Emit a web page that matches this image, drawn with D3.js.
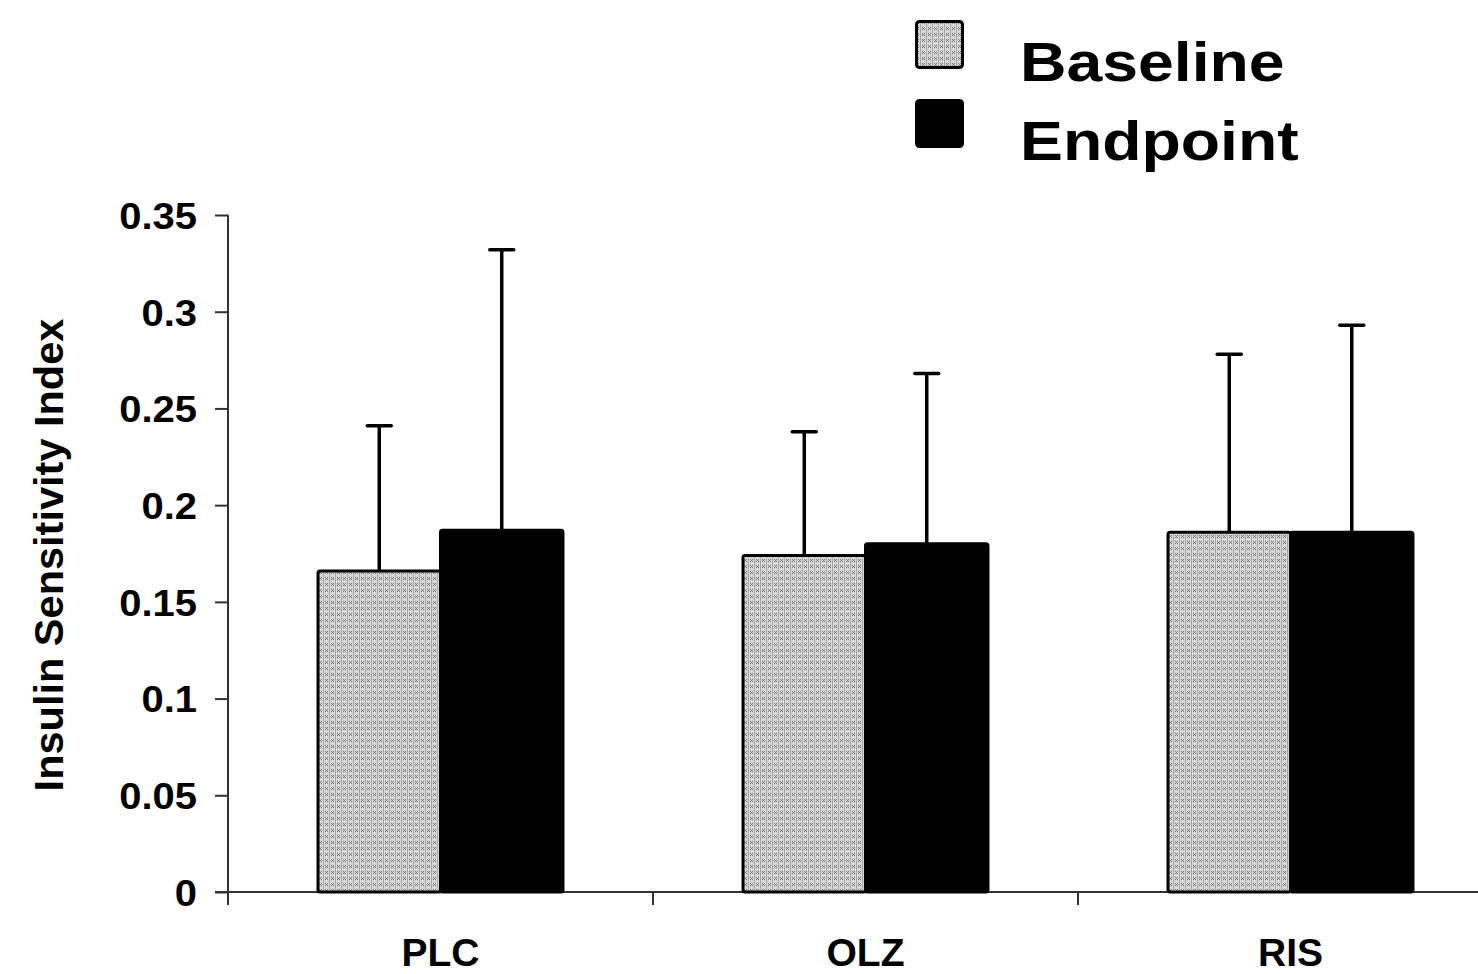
<!DOCTYPE html>
<html>
<head>
<meta charset="utf-8">
<script src="https://cdn.jsdelivr.net/npm/d3@7/dist/d3.min.js"></script>
<style>
  html, body { margin: 0; padding: 0; background: #fff; }
  svg { display: block; }
  text { font-family: "Liberation Sans", Arial, sans-serif; font-weight: bold; fill: #000; }
</style>
</head>
<body>
<svg id="chart" width="1478" height="974"></svg>
<script>
// Insulin sensitivity index by treatment group, baseline vs endpoint (mean + SD)
const groups = ["PLC", "OLZ", "RIS"];
const seriesNames = ["Baseline", "Endpoint"];
const baselineMean = [0.166, 0.174, 0.186];
const endpointMean = [0.187, 0.180, 0.186];
const baselineSD = [0.075, 0.064, 0.092];
const endpointSD = [0.145, 0.088, 0.107];
const yTickValues = [0, 0.05, 0.1, 0.15, 0.2, 0.25, 0.3, 0.35];
const yTickLabels = ["0", "0.05", "0.1", "0.15", "0.2", "0.25", "0.3", "0.35"];

const rows = groups.map((g, i) => ({
  group: g,
  values: [
    { series: "Baseline", mean: baselineMean[i], sd: baselineSD[i] },
    { series: "Endpoint", mean: endpointMean[i], sd: endpointSD[i] }
  ]
}));

const svg = d3.select("#chart");

// dotted-cross fill used for the baseline bars
const defs = svg.append("defs");
const pat = defs.append("pattern")
  .attr("id", "hatch")
  .attr("patternUnits", "userSpaceOnUse")
  .attr("width", 6).attr("height", 6);
pat.append("rect").attr("width", 6).attr("height", 6).attr("fill", "#d6d6d6");
pat.append("path")
  .attr("d", "M1,1 L4,4 M4,1 L1,4")
  .attr("stroke", "#6e6e6e").attr("stroke-width", 0.9).attr("fill", "none");
pat.append("rect").attr("x", 5).attr("y", 0).attr("width", 1).attr("height", 6).attr("fill", "#a8a8a8");

const fills = { Baseline: "url(#hatch)", Endpoint: "#000" };

const x0 = d3.scaleBand().domain(groups).range([228, 1503]).paddingInner(0).paddingOuter(0);
const x1 = d3.scaleBand().domain(seriesNames).range([0, x0.bandwidth()]).paddingInner(0).paddingOuter(0.735);
const y = d3.scaleLinear().domain([0, 0.35]).range([892, 215]);

// y axis
const yAxis = d3.axisLeft(y).tickValues(yTickValues)
  .tickFormat((d, i) => yTickLabels[i]).tickSize(13).tickPadding(18);
const gy = svg.append("g").attr("transform", "translate(228,0)").call(yAxis);
gy.select(".domain").attr("stroke", "#333").attr("stroke-width", 2).attr("d", "M0,215V905");
gy.selectAll(".tick line").attr("stroke", "#333").attr("stroke-width", 2);
gy.selectAll(".tick text")
  .attr("font-size", 37).attr("font-family", "Liberation Sans, Arial, sans-serif")
  .attr("font-weight", "bold").attr("fill", "#000")
  .attr("dy", "0.36em")
  .attr("transform", function () {
    const tx = +d3.select(this).attr("x");
    return `translate(${tx},0) scale(1.08,1) translate(${-tx},0)`;
  });

// x axis
const xAxis = d3.axisBottom(x0).tickValues([]).tickSizeOuter(0);
const gx = svg.append("g").attr("transform", "translate(0,892)").call(xAxis);
gx.select(".domain").attr("stroke", "#333").attr("stroke-width", 2).attr("d", "M215,0H1503");
// category separators below the axis
gx.selectAll("line.sep").data(groups.slice(1)).enter().append("line")
  .attr("class", "sep")
  .attr("x1", d => x0(d)).attr("x2", d => x0(d))
  .attr("y1", 0).attr("y2", 13)
  .attr("stroke", "#333").attr("stroke-width", 2);
gx.selectAll("text.cat").data(groups).enter().append("text")
  .attr("class", "cat")
  .attr("x", d => x0(d) + x0.bandwidth() / 2)
  .attr("y", 74)
  .attr("text-anchor", "middle")
  .attr("font-size", 39)
  .text(d => d);

// bars
const gGroups = svg.append("g").selectAll("g").data(rows).enter().append("g")
  .attr("transform", d => `translate(${x0(d.group)},0)`);

gGroups.selectAll("line.err").data(d => d.values).enter().append("line")
  .attr("class", "err")
  .attr("x1", d => x1(d.series) + x1.bandwidth() / 2)
  .attr("x2", d => x1(d.series) + x1.bandwidth() / 2)
  .attr("y1", d => y(d.mean))
  .attr("y2", d => y(d.mean + d.sd))
  .attr("stroke", "#000").attr("stroke-width", 3.5);
gGroups.selectAll("line.cap").data(d => d.values).enter().append("line")
  .attr("class", "cap")
  .attr("x1", d => x1(d.series) + x1.bandwidth() / 2 - 12)
  .attr("x2", d => x1(d.series) + x1.bandwidth() / 2 + 12)
  .attr("y1", d => y(d.mean + d.sd))
  .attr("y2", d => y(d.mean + d.sd))
  .attr("stroke", "#000").attr("stroke-width", 3.5).attr("stroke-linecap", "round");

gGroups.selectAll("rect.bar").data(d => d.values).enter().append("rect")
  .attr("class", "bar")
  .attr("x", d => x1(d.series))
  .attr("y", d => y(d.mean))
  .attr("width", x1.bandwidth())
  .attr("height", d => y(0) - y(d.mean))
  .attr("rx", 2)
  .attr("fill", d => fills[d.series])
  .attr("stroke", "#000").attr("stroke-width", 3);

// y axis title
svg.append("text")
  .attr("transform", "translate(63,555) rotate(-90)")
  .attr("text-anchor", "middle")
  .attr("font-size", 41.5)
  .text("Insulin Sensitivity Index");

// legend
const legend = svg.append("g").selectAll("g").data(seriesNames).enter().append("g")
  .attr("transform", (d, i) => `translate(915,${20 + i * 79})`);
legend.append("rect")
  .attr("x", 1.5).attr("y", 1.5).attr("width", 46).attr("height", 46).attr("rx", 3)
  .attr("fill", d => fills[d]).attr("stroke", "#000").attr("stroke-width", 3);
legend.append("text")
  .attr("transform", "translate(105,61) scale(1.17,1)")
  .attr("font-size", 55)
  .text(d => d);
</script>
</body>
</html>
